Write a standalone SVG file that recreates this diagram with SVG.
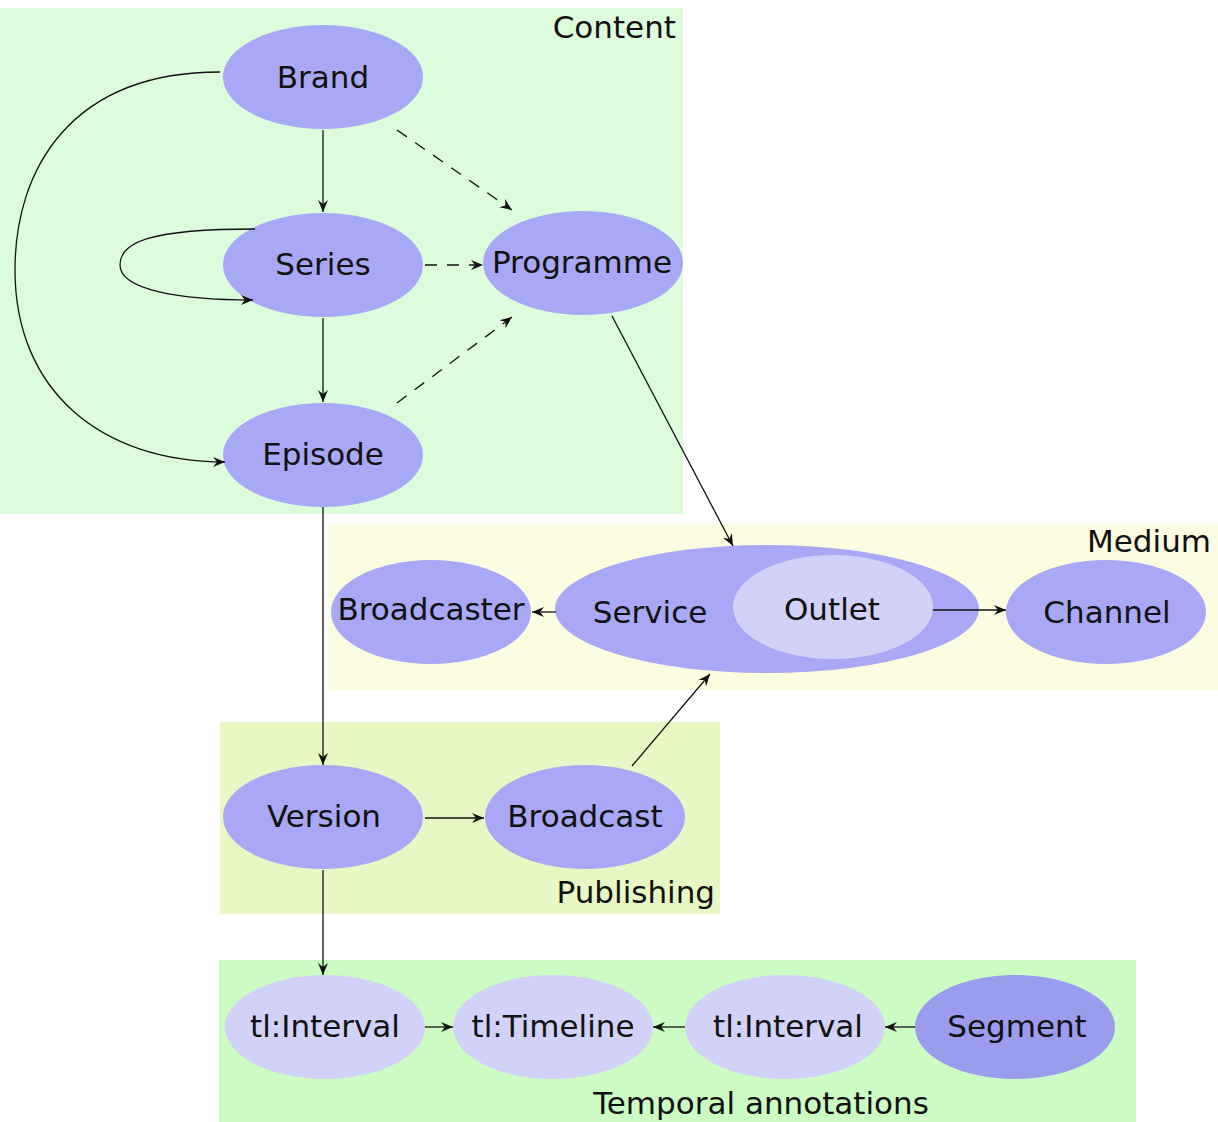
<svg xmlns="http://www.w3.org/2000/svg" width="1218" height="1122" viewBox="0 0 1218 1122">
<style>
text{font-family:"DejaVu Sans","Liberation Sans",sans-serif;font-size:31px;fill:#111}
.n text{text-anchor:middle}
.lbl{text-anchor:end}
.c{fill:#a8a8f6}
.l{fill:#d2d2f8}
.d{fill:#9c9cee}
.e{fill:none;stroke:#111;stroke-width:1.3}
.ds{stroke-dasharray:12,10}
</style>
<defs>
<marker id="a" viewBox="-13 -6 15 12" markerWidth="15" markerHeight="12" refX="0" refY="0" orient="auto" markerUnits="userSpaceOnUse">
<path d="M0,0 L-12,-5 L-8,0 L-12,5 Z" fill="#111"/>
</marker>
</defs>
<g id="groups">
<rect x="0" y="8" width="683" height="506" fill="#dcfcdc"/>
<text class="lbl" x="676" y="38">Content</text>
<rect x="328" y="524" width="890" height="166" fill="#fcfce0"/>
<text class="lbl" x="1211" y="552">Medium</text>
<rect x="220" y="722" width="500" height="192" fill="#e8f8c4"/>
<text class="lbl" x="715" y="903">Publishing</text>
<rect x="219" y="960" width="917" height="162" fill="#ccfcc4"/>
<text x="761" y="1114" style="text-anchor:middle">Temporal annotations</text>
</g>
<g id="brand" class="n"><ellipse class="c" cx="323" cy="77" rx="100" ry="52"/><text x="323" y="88">Brand</text></g>
<g id="series" class="n"><ellipse class="c" cx="323" cy="265" rx="100" ry="52"/><text x="323" y="275">Series</text></g>
<g id="episode" class="n"><ellipse class="c" cx="323" cy="455" rx="100" ry="52"/><text x="323" y="465">Episode</text></g>
<g id="programme" class="n"><ellipse class="c" cx="583" cy="263" rx="100" ry="52"/><text x="582" y="273">Programme</text></g>
<g id="broadcaster" class="n"><ellipse class="c" cx="431" cy="612" rx="100" ry="52"/><text x="431" y="620">Broadcaster</text></g>
<g id="service" class="n"><ellipse class="c" cx="767" cy="609" rx="212" ry="64"/><text x="650" y="623">Service</text></g>
<g id="outlet" class="n"><ellipse class="l" cx="833" cy="607" rx="100" ry="52"/><text x="832" y="620">Outlet</text></g>
<g id="channel" class="n"><ellipse class="c" cx="1106" cy="612" rx="100" ry="52"/><text x="1107" y="623">Channel</text></g>
<g id="version" class="n"><ellipse class="c" cx="323" cy="817" rx="100" ry="52"/><text x="324" y="827">Version</text></g>
<g id="broadcast" class="n"><ellipse class="c" cx="585" cy="817" rx="100" ry="52"/><text x="585" y="827">Broadcast</text></g>
<g id="interval1" class="n"><ellipse class="l" cx="325" cy="1027" rx="100" ry="52"/><text x="325" y="1037">tl:Interval</text></g>
<g id="timeline" class="n"><ellipse class="l" cx="553" cy="1027" rx="100" ry="52"/><text x="553" y="1037">tl:Timeline</text></g>
<g id="interval2" class="n"><ellipse class="l" cx="785" cy="1027" rx="100" ry="52"/><text x="788" y="1037">tl:Interval</text></g>
<g id="segment" class="n"><ellipse class="d" cx="1015" cy="1027" rx="100" ry="52"/><text x="1017" y="1037">Segment</text></g>
<g id="edges">
<path class="e" d="M323,130 L323,212" marker-end="url(#a)"/>
<path class="e" d="M323,318 L323,402" marker-end="url(#a)"/>
<path class="e ds" d="M397,130 L512,210" marker-end="url(#a)"/>
<path class="e ds" d="M425,265 L483,265" marker-end="url(#a)"/>
<path class="e ds" d="M397,403 L512,317" marker-end="url(#a)"/>
<path class="e" d="M220,72 C70,72 15,170 15,270 C15,390 100,462 225,462" marker-end="url(#a)"/>
<path class="e" d="M255,229 C150,229 120,242 120,265 C120,290 180,300 253,300" marker-end="url(#a)"/>
<path class="e" d="M612,316 L733,546" marker-end="url(#a)"/>
<path class="e" d="M323,507 L323,765" marker-end="url(#a)"/>
<path class="e" d="M632,766 L710,674" marker-end="url(#a)"/>
<path class="e" d="M556,612 L532,612" marker-end="url(#a)"/>
<path class="e" d="M933,610 L1006,610" marker-end="url(#a)"/>
<path class="e" d="M425,818 L484,818" marker-end="url(#a)"/>
<path class="e" d="M323,870 L323,975" marker-end="url(#a)"/>
<path class="e" d="M425,1027 L453,1027" marker-end="url(#a)"/>
<path class="e" d="M685,1027 L653,1027" marker-end="url(#a)"/>
<path class="e" d="M915,1027 L885,1027" marker-end="url(#a)"/>
</g>
</svg>
